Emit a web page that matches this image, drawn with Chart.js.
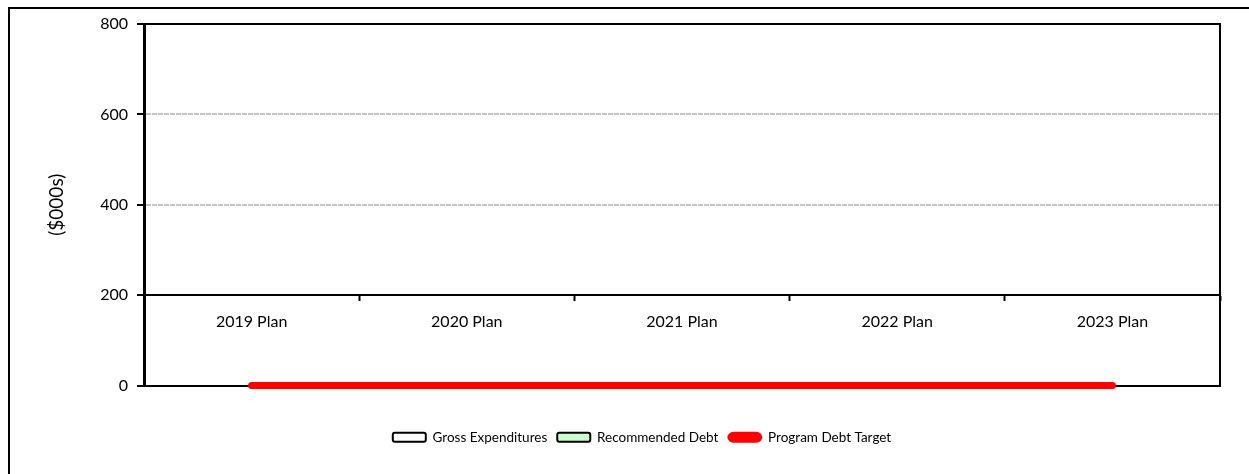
<!DOCTYPE html>
<html>
<head>
<meta charset="utf-8">
<script src="https://cdn.jsdelivr.net/npm/chart.js@4.4.1/dist/chart.umd.min.js"></script>
<style>
    html, body { margin: 0; padding: 0; background: #fff; overflow: hidden; width: 1249px; height: 474px; }
    .frame { position: absolute; left: 8px; top: 7px; width: 1300px; height: 500px; border: 2px solid #000; }
    .chart-box { position: absolute; left: 10px; top: 9px; width: 1264px; height: 445px; }
</style>
</head>
<body>
<div class="frame"></div>
<div class="chart-box"><canvas id="debtChart"></canvas></div>
<script>
const categories = ['2019 Plan', '2020 Plan', '2021 Plan', '2022 Plan', '2023 Plan'];
const grossExpenditures = [0, 0, 0, 0, 0];
const recommendedDebt = [0, 0, 0, 0, 0];
const programDebtTarget = [0, 0, 0, 0, 0];
const yTicks = [0, 200, 400, 600, 800];
const categoryAxisAt = 200;

const FONT = 'Lato';
const black = '#000000';
const gridGray = '#c4c4c4';

// fixed-size helpers for the frame axes that only draw a border line
function fixedHeight(h) { return function (scale) { scale.height = h; }; }
function fixedWidth(w) { return function (scale) { scale.width = w; }; }

document.addEventListener('DOMContentLoaded', function () {
    const element = document.getElementById('debtChart');

    new Chart(element, {
        type: 'bar',
        data: {
            labels: categories,
            datasets: [{
                label: 'Gross Expenditures',
                data: grossExpenditures,
                backgroundColor: '#ffffff',
                borderColor: black,
                borderWidth: 2,
                inflateAmount: 0,
            }, {
                label: 'Recommended Debt',
                data: recommendedDebt,
                backgroundColor: '#ccffcc',
                borderColor: black,
                borderWidth: 2,
                inflateAmount: 0,
            }, {
                type: 'line',
                label: 'Program Debt Target',
                data: programDebtTarget,
                borderColor: '#ff0000',
                backgroundColor: '#ff0000',
                borderWidth: 7,
                borderCapStyle: 'round',
                pointRadius: 0,
                fill: false,
                clip: false,
            }],
        },
        options: {
            responsive: true,
            maintainAspectRatio: false,
            animation: false,
            layout: { padding: { left: 0, right: 0, top: 15, bottom: 0 } },
            plugins: {
                tooltip: { enabled: false },
                legend: {
                    position: 'bottom',
                    labels: {
                        color: black,
                        font: { family: FONT, size: 13.5 },
                        boxWidth: 33,
                        boxHeight: 9,
                        padding: 10,
                        useBorderRadius: true,
                        borderRadius: 3,
                        generateLabels: function (chart) {
                            const items = Chart.defaults.plugins.legend.labels.generateLabels(chart);
                            items.forEach(function (item) {
                                item.lineWidth = 2;
                                item.borderRadius = item.text === 'Program Debt Target' ? 5 : 2;
                            });
                            return items;
                        },
                    },
                },
            },
            scales: {
                x: {
                    type: 'category',
                    position: { y: categoryAxisAt },
                    offset: true,
                    grid: {
                        offset: true,
                        drawOnChartArea: false,
                        drawTicks: true,
                        tickLength: 5,
                        tickWidth: 2,
                        tickColor: black,
                    },
                    border: { display: true, color: black, width: 2 },
                    ticks: {
                        color: black,
                        font: { family: FONT, size: 16 },
                        padding: 12,
                        maxRotation: 0,
                        autoSkip: false,
                    },
                },
                xTop: {
                    type: 'category',
                    position: 'top',
                    grid: { display: false },
                    ticks: { display: false },
                    border: { display: true, color: black, width: 2 },
                    afterFit: fixedHeight(0),
                },
                xBottom: {
                    type: 'category',
                    position: 'bottom',
                    grid: { display: false },
                    ticks: { display: false },
                    border: { display: true, color: black, width: 2 },
                    afterFit: fixedHeight(35),
                },
                y: {
                    min: 0,
                    max: 800,
                    afterBuildTicks: function (scale) {
                        scale.ticks = yTicks.map(function (v) { return { value: v }; });
                    },
                    grid: {
                        color: function (ctx) {
                            const v = ctx.tick ? ctx.tick.value : null;
                            return (v === 400 || v === 600) ? gridGray : 'rgba(0,0,0,0)';
                        },
                        lineWidth: 2,
                        drawTicks: true,
                        tickLength: 7,
                        tickWidth: 2,
                        tickColor: black,
                    },
                    border: { display: true, color: black, width: 3, dash: [5, 1] },
                    ticks: {
                        color: black,
                        font: { family: FONT, size: 16 },
                        padding: 9,
                    },
                    title: {
                        display: true,
                        text: '($000s)',
                        color: black,
                        font: { family: FONT, size: 19 },
                        padding: { top: 35, bottom: 0 },
                    },
                    afterFit: function (scale) {
                        scale.width = 134;
                        scale.paddingTop = 0;
                        scale.paddingBottom = 0;
                    },
                },
                yRight: {
                    position: 'right',
                    min: 0,
                    max: 800,
                    grid: { display: false },
                    ticks: { display: false },
                    border: { display: true, color: black, width: 2 },
                    afterFit: fixedWidth(54),
                },
            },
        },
    });
});
</script>
</body>
</html>
